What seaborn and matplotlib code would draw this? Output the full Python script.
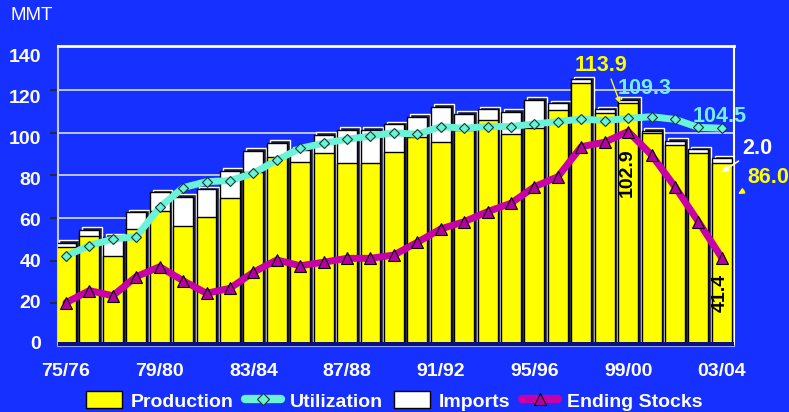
import numpy as np
import pandas as pd
import matplotlib
matplotlib.use("Agg")
import matplotlib.pyplot as plt
import seaborn as sns
from matplotlib.patches import Patch, Rectangle
from matplotlib.lines import Line2D

# ---------------- data ----------------
seasons = ["75/76", "76/77", "77/78", "78/79", "79/80", "80/81", "81/82", "82/83",
           "83/84", "84/85", "85/86", "86/87", "87/88", "88/89", "89/90", "90/91",
           "91/92", "92/93", "93/94", "94/95", "95/96", "96/97", "97/98", "98/99",
           "99/00", "00/01", "01/02", "02/03", "03/04"]
production = [46.5, 51.6, 42.3, 54.9, 63.5, 56.3, 60.4, 69.3, 81.8, 88.8,
              86.2, 90.4, 86.0, 85.7, 90.9, 98.2, 95.9, 101.4, 106.1, 99.3,
              102.2, 110.8, 123.3, 109.5, 113.9, 99.8, 94.3, 90.7, 86.0]
imports = [1.9, 2.8, 8.9, 7.8, 8.6, 13.7, 13.1, 12.8, 9.7, 6.6,
           5.8, 8.6, 15.4, 15.7, 13.1, 9.4, 16.4, 7.5, 5.0, 10.7,
           13.3, 3.1, 1.9, 1.6, 1.6, 1.3, 2.0, 1.6, 2.0]
utilization = [42.3, 47.4, 50.6, 51.7, 66.0, 75.6, 78.5, 79.0, 82.6, 89.0,
               94.7, 97.2, 99.1, 100.7, 102.3, 101.5, 105.3, 104.5, 105.3, 105.3,
               106.6, 107.7, 109.0, 108.2, 109.3, 110.1, 108.8, 104.9, 104.5]
ending_stocks = [19.6, 25.5, 23.0, 32.3, 37.1, 30.3, 24.2, 26.6, 34.4, 40.4,
                 37.6, 39.3, 41.2, 41.2, 42.8, 49.0, 55.5, 59.0, 63.9, 68.0,
                 76.0, 80.9, 95.5, 97.7, 102.9, 91.5, 76.0, 59.0, 41.4]
tick_seasons = seasons[::4]
y_ticks = [0, 20, 40, 60, 80, 100, 120, 140]

# ---------------- style ----------------
BLUE = "#1530FF"
YELLOW = "#FFFF00"
CYAN = "#6CF2D6"
CYAN_TXT = "#74EEE6"
MAGENTA = "#C800A8"
TRI = "#B400A0"

sns.set_theme(style="white")
plt.rcParams["font.family"] = ["Liberation Sans", "DejaVu Sans"]

df = pd.DataFrame({"season": seasons, "production": production, "imports": imports})
df["total"] = df["production"] + df["imports"]
x = np.arange(len(seasons))

W, H = 789, 412
fig = plt.figure(figsize=(W / 100, H / 100), dpi=100, facecolor=BLUE)
axb = fig.add_axes([58 / W, (H - 346) / H, (734 - 58) / W, 300 / H])
axb.set_facecolor(BLUE)

# bars (stacked: total in white, production in yellow)
sns.barplot(data=df, x="season", y="total", color="white", saturation=1,
            width=0.85, edgecolor="black", linewidth=1, errorbar=None,
            ax=axb, zorder=3)
sns.barplot(data=df, x="season", y="production", color=YELLOW, saturation=1,
            width=0.85, edgecolor="black", linewidth=1, errorbar=None,
            ax=axb, zorder=4)
# 3D-like dark side of each bar
axb.bar(x + 0.12, df["total"] + 1.2, width=0.85, color="#1c1c40", zorder=2)

axb.set_xlim(-0.34, 28.52)
axb.set_ylim(-0.09, 140.8)
axb.set_yticks([20, 40, 60, 80, 100, 120])
axb.yaxis.grid(True, color="#C8D0FF", linewidth=1.3)
axb.xaxis.grid(False)
axb.set_axisbelow(True)
axb.tick_params(axis="y", left=False, labelleft=False)
axb.set_xticks(x[::4])
axb.set_xticklabels(tick_seasons, color="white", fontsize=14, fontweight="bold")
axb.tick_params(axis="x", length=0, pad=12)
axb.set_xlabel("")
axb.set_ylabel("")
for s, c, lw in [("top", "white", 2), ("right", "white", 1.5),
                 ("left", "#C0C8FF", 1.5), ("bottom", "#9AA4FF", 1.5)]:
    axb.spines[s].set_color(c)
    axb.spines[s].set_linewidth(lw)
    axb.spines[s].set_visible(True)
# floor
axb.add_patch(Rectangle((0, 0), 1, 4 / 300, transform=axb.transAxes,
                        facecolor="#0A1280", edgecolor="none", zorder=6))

# lines on a twin axis (front plane)
axl = axb.twinx()
axl.set_ylim(-1.46, 144.5)
sns.lineplot(x=x, y=utilization, ax=axl, color=CYAN, linewidth=5,
             marker="D", markersize=5.6, markerfacecolor=CYAN,
             markeredgecolor="#0A3A30", markeredgewidth=0.8, legend=False, zorder=5)
sns.lineplot(x=x, y=ending_stocks, ax=axl, color=MAGENTA, linewidth=5,
             marker="^", markersize=8.5, markerfacecolor=TRI,
             markeredgecolor="black", markeredgewidth=0.8, legend=False, zorder=6)
axl.yaxis.tick_left()
axl.set_yticks(y_ticks)
axl.set_yticklabels([str(v) for v in y_ticks], color="white", fontsize=14,
                    fontweight="bold")
axl.tick_params(axis="y", length=0, pad=12)
axl.set_ylabel("")
for s in axl.spines.values():
    s.set_visible(False)

# annotations
axb.annotate("113.9", xy=(23.66, production[24]), xytext=(-13.7, 27.4),
             textcoords="offset points", ha="center", va="center", color=YELLOW,
             fontsize=15.5, fontweight="bold", annotation_clip=False, zorder=10,
             arrowprops=dict(arrowstyle="-|>", color=YELLOW, lw=1,
                             mutation_scale=8, shrinkA=0, shrinkB=0,
                             relpos=(0.65, 0.1)))
axb.annotate(f"{imports[28]:.1f}", xy=(28, 81.6), xytext=(25.2, 17.3),
             textcoords="offset points", ha="center", va="center", color="white",
             fontsize=15.5, fontweight="bold", annotation_clip=False, zorder=10,
             arrowprops=dict(arrowstyle="-|>", color="white", lw=1.2,
                             mutation_scale=8, shrinkA=0, shrinkB=0,
                             relpos=(0.15, 0.12)))
axb.annotate(f"{production[28]:.1f}", xy=(28.69, 71.3), xytext=(21.6, 12.2),
             textcoords="offset points", ha="center", va="center", color=YELLOW,
             fontsize=15.5, fontweight="bold", annotation_clip=False, zorder=10,
             arrowprops=dict(arrowstyle="-|>", color=YELLOW, lw=1.2,
                             mutation_scale=8, shrinkA=0, shrinkB=0,
                             relpos=(0.15, 0.1)))
axl.annotate(f"{utilization[24]:.1f}", xy=(24, utilization[24]), xytext=(11.5, 21.8),
             textcoords="offset points", ha="center", va="center", color=CYAN_TXT,
             fontsize=15.5, fontweight="bold", annotation_clip=False)
axl.annotate(f"{utilization[28]:.1f}", xy=(28, utilization[28]), xytext=(-1.2, 8.1),
             textcoords="offset points", ha="center", va="center", color=CYAN_TXT,
             fontsize=15.5, fontweight="bold", annotation_clip=False)
axl.annotate(f"{ending_stocks[24]:.1f}", xy=(24, ending_stocks[24]), xytext=(-0.7, -29.5),
             textcoords="offset points", ha="center", va="center", color="black",
             fontsize=14, fontweight="bold", rotation=90, annotation_clip=False)
axl.annotate(f"{ending_stocks[28]:.1f}", xy=(28, ending_stocks[28]), xytext=(-1.2, -25),
             textcoords="offset points", ha="center", va="center", color="black",
             fontsize=14, fontweight="bold", rotation=90, annotation_clip=False)

fig.text(10 / W, 1 - 15 / H, "MMT", color="white", fontsize=13.5,
         ha="left", va="center")

handles = [
    Patch(facecolor=YELLOW, edgecolor="black", linewidth=1),
    Line2D([0], [0], color=CYAN, lw=6, marker="D", ms=6, mfc=CYAN,
           mec="#0A3A30", mew=0.8, solid_capstyle="round"),
    Patch(facecolor="white", edgecolor="black", linewidth=1),
    Line2D([0], [0], color=MAGENTA, lw=6, marker="^", ms=9, mfc=TRI,
           mec="black", mew=0.8, solid_capstyle="round"),
]
labels = ["Production", "Utilization", "Imports", "Ending Stocks"]
fig.legend(handles, labels, loc="center", bbox_to_anchor=(394 / W, 1 - 401 / H),
           ncol=4, frameon=False, prop={"size": 14, "weight": "bold"},
           labelcolor="white", handlelength=1.85, handleheight=0.95,
           handletextpad=0.45, columnspacing=0.6)

fig.savefig("out.png", dpi=100, facecolor=BLUE)
